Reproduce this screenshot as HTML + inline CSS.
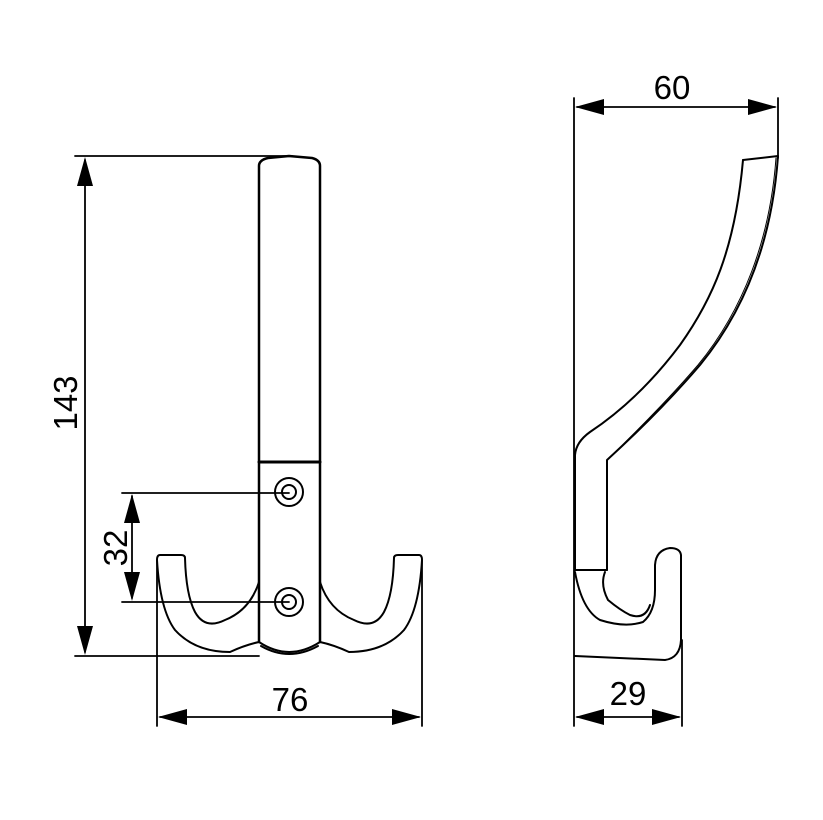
<!DOCTYPE html>
<html><head><meta charset="utf-8"><style>
html,body{margin:0;padding:0;background:#fff;}
svg{display:block;}
text{font-family:"Liberation Sans",Arial,sans-serif;font-size:33px;fill:#000;}
</style></head><body>
<svg width="823" height="820" viewBox="0 0 823 820" xmlns="http://www.w3.org/2000/svg">
<g fill="none" stroke="#000" stroke-width="2" stroke-linejoin="round" stroke-linecap="round">
<path d="M259,642 L259,166 Q259,160 268,158 L289,156 L312,158 Q320,160 320,166 L320,642" stroke-width="2.5"/>
<line x1="259" y1="462" x2="320" y2="462" stroke-width="3"/>
<circle cx="289" cy="492" r="14"/><circle cx="289" cy="492" r="7"/>
<circle cx="289" cy="602" r="14"/><circle cx="289" cy="602" r="7"/>
<path d="M259,642 Q289,662 320,642"/>
<path d="M261,646 Q289,662 318,646"/>
<path d="M259,582 Q250,610 225,620 Q205,630 195,612 Q186,595 185,558 Q185,555 181,555 L160,555 Q157,555 157,560 Q160,610 175,630 Q195,652 230,652 Q245,645 259,642"/>
<path d="M320,582 Q329,610 354,620 Q374,630 384,612 Q393,595 394,558 Q394,555 398,555 L419,555 Q422,555 422,560 Q419,610 404,630 Q384,652 349,652 Q334,645 320,642"/>
<!-- Side view -->
<path d="M743,160 L778,156 C772,240 745,310 700,365 C670,400 640,430 607,460 L607,570"/>
<path d="M776,158 C770,240 743,310 698,365 C668,400 638,430 609,458" stroke-width="1"/>
<path d="M743,160 C735,250 712,300 680,345 C650,385 620,412 590,432 Q576,442 575,455 L575,570"/>
<line x1="575" y1="570" x2="607" y2="570"/>
<path d="M575,572 Q582,610 600,620 Q625,628 643,622 Q655,612 655,590 L655,565 Q656,550 670,548 Q680,548 681,555 L681,640 Q680,658 665,660 L575,656"/>
<path d="M605,572 Q600,585 608,600 Q620,610 630,615 Q645,620 650,605"/>
<g stroke-width="1.8">
<line x1="75" y1="156" x2="292" y2="156"/>
<line x1="75" y1="656" x2="259" y2="656"/>
<line x1="85" y1="160" x2="85" y2="652"/>
<line x1="122" y1="493" x2="289" y2="493"/>
<line x1="122" y1="602" x2="289" y2="602"/>
<line x1="132" y1="496" x2="132" y2="598"/>
<line x1="157" y1="560" x2="157" y2="726"/>
<line x1="422" y1="560" x2="422" y2="726"/>
<line x1="160" y1="717" x2="419" y2="717"/>
<line x1="574" y1="98" x2="574" y2="726"/>
<line x1="778" y1="98" x2="778" y2="158"/>
<line x1="577" y1="107" x2="775" y2="107"/>
<line x1="682" y1="640" x2="682" y2="726"/>
<line x1="577" y1="717" x2="679" y2="717"/>
</g>
</g>
<g fill="#000">
<polygon points="85,157 77,186 93,186"/>
<polygon points="85,655 77,626 93,626"/>
<polygon points="132,494 124,523 140,523"/>
<polygon points="132,601 124,572 140,572"/>
<polygon points="158,717 187,709 187,725"/>
<polygon points="421,717 392,709 392,725"/>
<polygon points="575,107 604,99 604,115"/>
<polygon points="777,107 748,99 748,115"/>
<polygon points="575,717 604,709 604,725"/>
<polygon points="681,717 652,709 652,725"/>
</g>
<text x="290" y="711" text-anchor="middle">76</text>
<text x="672" y="99" text-anchor="middle">60</text>
<text x="628" y="705" text-anchor="middle">29</text>
<text transform="translate(77,403) rotate(-90)" text-anchor="middle">143</text>
<text transform="translate(127,548) rotate(-90)" text-anchor="middle">32</text>
</svg>
</body></html>
